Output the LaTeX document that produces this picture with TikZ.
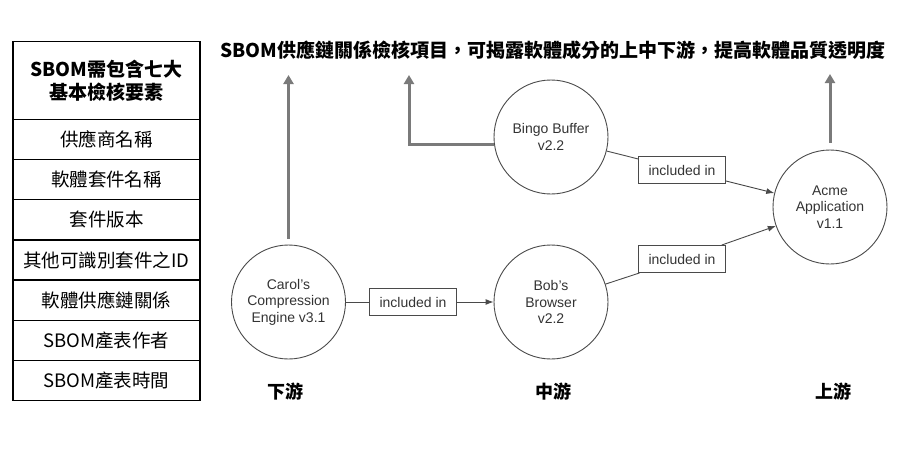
\documentclass[tikz,border=0pt]{standalone}
\usepackage{fontspec}
\setmainfont{Liberation Sans}
\newfontfamily\cjk{Noto Sans CJK TC}
\usetikzlibrary{arrows.meta,positioning}
\definecolor{ink}{HTML}{333333}
\definecolor{edge}{HTML}{4A4A4A}
\definecolor{pointer}{HTML}{7A7A7A}

\begin{document}
\begin{tikzpicture}[x=1pt, y=-1pt,
  cell/.style={draw, line width=1.4pt, minimum width=187pt, minimum height=40.2pt,
              inner sep=0pt, align=center, font=\cjk\fontsize{18.5}{22}\selectfont},
  pkg/.style={circle, draw=edge, line width=0.9pt, minimum size=114pt, inner sep=0pt,
              align=center, text=ink, font=\fontsize{14}{16.5}\selectfont},
  rel/.style={draw=edge, line width=0.9pt, minimum width=87pt, minimum height=27pt,
              inner sep=0pt, text=ink, font=\fontsize{14}{16}\selectfont},
  link/.style={draw=edge, line width=0.9pt},
  arr/.style={link, -{Latex[length=8pt, width=6pt]}},
  up/.style={-{Triangle[length=9pt, width=10pt]}, line width=3pt, pointer},
  tier/.style={font=\cjk\bfseries\fontsize{18}{22}\selectfont}
]
  \useasboundingbox (0,0) rectangle (898,450);

  \node[cell, minimum height=77.6pt, font=\cjk\bfseries\fontsize{19}{23}\selectfont]
                 (head) at (106.5,80.5)  {SBOM需包含七大\\基本檢核要素};
  \node[cell] (vendor) at (106.5,139.4) {供應商名稱};
  \node[cell] (name)   at (106.5,179.6) {軟體套件名稱};
  \node[cell] (ver)    at (106.5,219.8) {套件版本};
  \node[cell] (uid)    at (106.5,260.0) {其他可識別套件之ID};
  \node[cell] (chain)  at (106.5,300.2) {軟體供應鏈關係};
  \node[cell] (author) at (106.5,340.4) {SBOM產表作者};
  \node[cell] (stamp)  at (106.5,380.6) {SBOM產表時間};

  \node[font=\cjk\bfseries\fontsize{19}{23}\selectfont] (title) at (553,50)
    {SBOM供應鏈關係檢核項目，可揭露軟體成分的上中下游，提高軟體品質透明度};

  \node[pkg] (carol) at (288.5,302) {Carol's\\Compression\\Engine v3.1};
  \node[pkg] (bob)   at (551,302)   {Bob's\\Browser\\v2.2};
  \node[pkg] (bingo) at (551,137)   {Bingo Buffer\\v2.2};
  \node[pkg] (acme)  at (830,207)   {Acme\\Application\\v1.1};

  \node[rel] (inc1) at (682,170) {included in};
  \node[rel] (inc2) at (682,259) {included in};
  \node[rel] (inc3) at (413,302) {included in};

  \draw[link] (bingo) -- (inc1);
  \draw[arr]  (inc1)  -- (acme);
  \draw[link] (bob)   -- (inc2);
  \draw[arr]  (inc2)  -- (acme);
  \draw[link] (carol) -- (inc3);
  \draw[arr]  (inc3)  -- (bob);

  \coordinate (tip1) at (288.5,75);
  \coordinate (tip2) at (409,75);
  \coordinate (tip3) at (830,74);
  \draw[up, shorten <=6pt] (carol.north) -- (tip1);
  \draw[up] (bingo.188) -| (tip2);
  \draw[up, shorten <=7pt] (acme.north) -- (tip3);

  \node[tier] (down) at (285,392) {下游};
  \node[tier] (mid)  at (553,392) {中游};
  \node[tier] (top)  at (833,392) {上游};
\end{tikzpicture}
\end{document}
